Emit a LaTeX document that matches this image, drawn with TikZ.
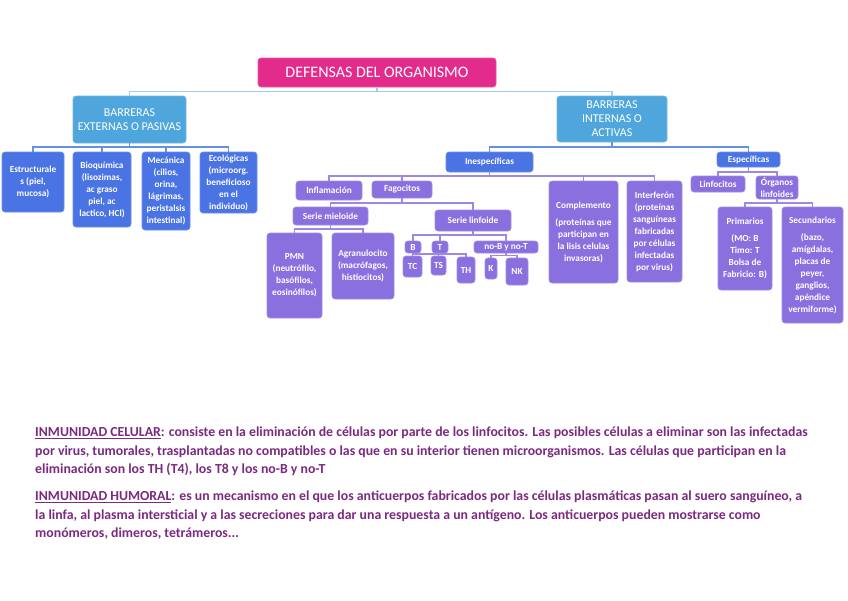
\documentclass[tikz,border=0pt]{standalone}
\usepackage{fontspec}
\setmainfont{Carlito}
\definecolor{cpink}{HTML}{E32B8C}
\definecolor{clblue}{HTML}{4FA6DC}
\definecolor{cblue}{HTML}{4A73E3}
\definecolor{cpurp}{HTML}{8A6FDF}
\definecolor{ltline}{HTML}{A4CBEB}
\definecolor{bline}{HTML}{6690E6}
\definecolor{pline}{HTML}{9C88E6}
\definecolor{ctext}{HTML}{7B2A80}
\begin{document}
\begin{tikzpicture}[x=1pt,y=1pt,
  bx/.style={rounded corners=3pt, draw=#1!80!white, line width=0.6pt, fill=#1, text=white, align=center, inner sep=1pt, font=\fontsize{9.3}{12}\selectfont\bfseries},
  big/.style={bx=#1, font=\fontsize{12}{14}\selectfont},
  cn/.style={line width=1.4pt, draw=#1},
  bt/.style={anchor=base west, inner sep=0pt, text=ctext, font=\fontsize{13.8}{16}\selectfont\bfseries}
]
\useasboundingbox (0,0) rectangle (848,-600);
\fill[white] (0,0) rectangle (848,-600);

% top
\node[bx=cpink, font=\fontsize{16}{18}\selectfont, minimum width=238, minimum height=29] (title) at (377,-72.5) {DEFENSAS DEL ORGANISMO};
\node[big=clblue, minimum width=113, minimum height=47] (ext) at (129.5,-119.5) {BARRERAS\\EXTERNAS O PASIVAS};
\node[big=clblue, minimum width=110, minimum height=46] (int) at (612,-119) {BARRERAS\\INTERNAS O\\ACTIVAS};

% external children
\node[bx=cblue, minimum width=62, minimum height=60] (estr) at (33,-182) {Estructurale\\s (piel,\\mucosa)};
\node[bx=cblue, minimum width=58, minimum height=75] (bioq) at (102,-189.5) {Bioquímica\\(lisozimas,\\ac graso\\piel, ac\\lactico, HCl)};
\node[bx=cblue, minimum width=48, minimum height=78] (mec) at (166,-191) {Mecánica\\(cilios,\\orina,\\lágrimas,\\peristalsis\\intestinal)};
\node[bx=cblue, minimum width=57, minimum height=61] (eco) at (228.5,-182.5) {Ecológicas\\(microorg.\\beneficioso\\en el\\individuo)};

% internal
\node[bx=cblue, minimum width=87, minimum height=20] (inesp) at (489.5,-162) {Inespecíficas};
\node[bx=cblue, minimum width=63, minimum height=15] (espec) at (748.5,-159.5) {Específicas};

\node[bx=cpurp, minimum width=66, minimum height=19] (infl) at (329,-190.5) {Inflamación};
\node[bx=cpurp, minimum width=60, minimum height=17] (fago) at (402,-189.5) {Fagocitos};
\node[bx=cpurp, minimum width=69, minimum height=102] (compl) at (583.5,-232) {Complemento\\[5pt](proteínas que\\participan en\\la lisis celulas\\invasoras)};
\node[bx=cpurp, minimum width=55, minimum height=101] (interf) at (654.5,-231.5) {Interferón\\(proteínas\\sanguíneas\\fabricadas\\por células\\infectadas\\por virus)};

\node[bx=cpurp, minimum width=75, minimum height=18] (smiel) at (330.5,-216) {Serie mieloide};
\node[bx=cpurp, minimum width=76, minimum height=21] (slinf) at (473,-220.5) {Serie linfoide};
\node[bx=cpurp, minimum width=55, minimum height=85] (pmn) at (294.5,-275.5) {PMN\\(neutrófilo,\\basófilos,\\eosinófilos)};
\node[bx=cpurp, minimum width=62, minimum height=66] (agran) at (363,-266) {Agranulocito\\(macrófagos,\\histiocitos)};

\node[bx=cpurp, minimum width=16, minimum height=12, inner ysep=0pt] (B) at (413,-247) {B};
\node[bx=cpurp, minimum width=16, minimum height=12, inner ysep=0pt] (T) at (440,-247) {T};
\node[bx=cpurp, minimum width=64, minimum height=12, inner ysep=0pt] (nobt) at (506,-247) {no-B y no-T};
\node[bx=cpurp, minimum width=19, minimum height=21] (TC) at (412.5,-266.5) {TC};
\node[bx=cpurp, minimum width=15, minimum height=19] (TS) at (438.5,-265.5) {TS};
\node[bx=cpurp, minimum width=18, minimum height=26] (TH) at (466,-270) {TH};
\node[bx=cpurp, minimum width=12, minimum height=21] (K) at (491,-268.5) {K};
\node[bx=cpurp, minimum width=22, minimum height=27] (NK) at (517,-271.5) {NK};

\node[bx=cpurp, minimum width=54, minimum height=16] (linfo) at (718,-184) {Linfocitos};
\node[bx=cpurp, minimum width=42, minimum height=23] (organ) at (777,-187.5) {Órganos\\linfoides};
\node[bx=cpurp, minimum width=54, minimum height=83] (prim) at (745,-248.5) {Primarios\\[5pt](MO: B\\Timo: T\\Bolsa de\\Fabricio: B)};
\node[bx=cpurp, minimum width=61, minimum height=116] (secu) at (812.5,-265) {Secundarios\\[5pt](bazo,\\amígdalas,\\placas de\\peyer,\\ganglios,\\apéndice\\vermiforme)};

% bus levels
\coordinate (y1) at (0,-91.5);
\coordinate (y2) at (0,-147);
\coordinate (y3) at (0,-147);
\coordinate (y4) at (0,-176);
\coordinate (y5) at (0,-203);
\coordinate (y6) at (0,-229);
\coordinate (y7) at (0,-235);
\coordinate (y8) at (0,-254);
\coordinate (y9) at (0,-172);
\coordinate (y10) at (0,-203);
\coordinate (y11) at (0,-255.5);

% connectors
\draw[cn=ltline] (title.south) -- (title.south |- y1) -| (ext.north);
\draw[cn=ltline] (title.south |- y1) -| (int.north);

\foreach \c in {estr,bioq,mec,eco}
  \draw[cn=bline] (ext.south) -- (ext.south |- y2) -| (\c.north);

\draw[cn=bline] (int.south) -- (int.south |- y3) -| (inesp.north);
\draw[cn=bline] (int.south |- y3) -| (espec.north);

\foreach \c in {infl,fago,compl,interf}
  \draw[cn=pline] (inesp.south) -- (inesp.south |- y4) -| (\c.north);

\foreach \c in {smiel,slinf}
  \draw[cn=pline] (fago.south) -- (fago.south |- y5) -| (\c.north);

\foreach \c in {pmn,agran}
  \draw[cn=pline] (smiel.south) -- (smiel.south |- y6) -| (\c.north);

\foreach \c in {B,T,nobt}
  \draw[cn=pline] (slinf.south) -- (slinf.south |- y7) -| (\c.north);

\foreach \c in {TC,TS,TH}
  \draw[cn=pline] (T.south) -- (T.south |- y8) -| (\c.north);

\foreach \c in {K,NK}
  \draw[cn=pline] (nobt.south) -- (nobt.south |- y11) -| (\c.north);

\foreach \c in {linfo,organ}
  \draw[cn=pline] (espec.south) -- (espec.south |- y9) -| (\c.north);

\foreach \c in {prim,secu}
  \draw[cn=pline] (organ.south) -- (organ.south |- y10) -| (\c.north);

% bottom text
\node[bt] (l1) at (35,-436.5) {\underline{INMUNIDAD CELULAR}: consiste en la eliminación de células por parte de los linfocitos. Las posibles células a eliminar son las infectadas};
\node[bt] (l2) at (35,-455) {por virus, tumorales, trasplantadas no compatibles o las que en su interior tienen microorganismos. Las células  que participan en la};
\node[bt] (l3) at (35,-473.5) {eliminación son los TH (T4), los T8 y los no-B y no-T};
\node[bt] (l4) at (35,-500.5) {\underline{INMUNIDAD HUMORAL}: es un mecanismo en el que los anticuerpos fabricados por las células plasmáticas pasan al suero sanguíneo, a};
\node[bt] (l5) at (35,-519) {la linfa, al plasma intersticial y a las secreciones para dar una respuesta a un antígeno. Los anticuerpos pueden mostrarse como};
\node[bt] (l6) at (35,-537.5) {monómeros, dimeros, tetrámeros...};
\end{tikzpicture}
\end{document}
